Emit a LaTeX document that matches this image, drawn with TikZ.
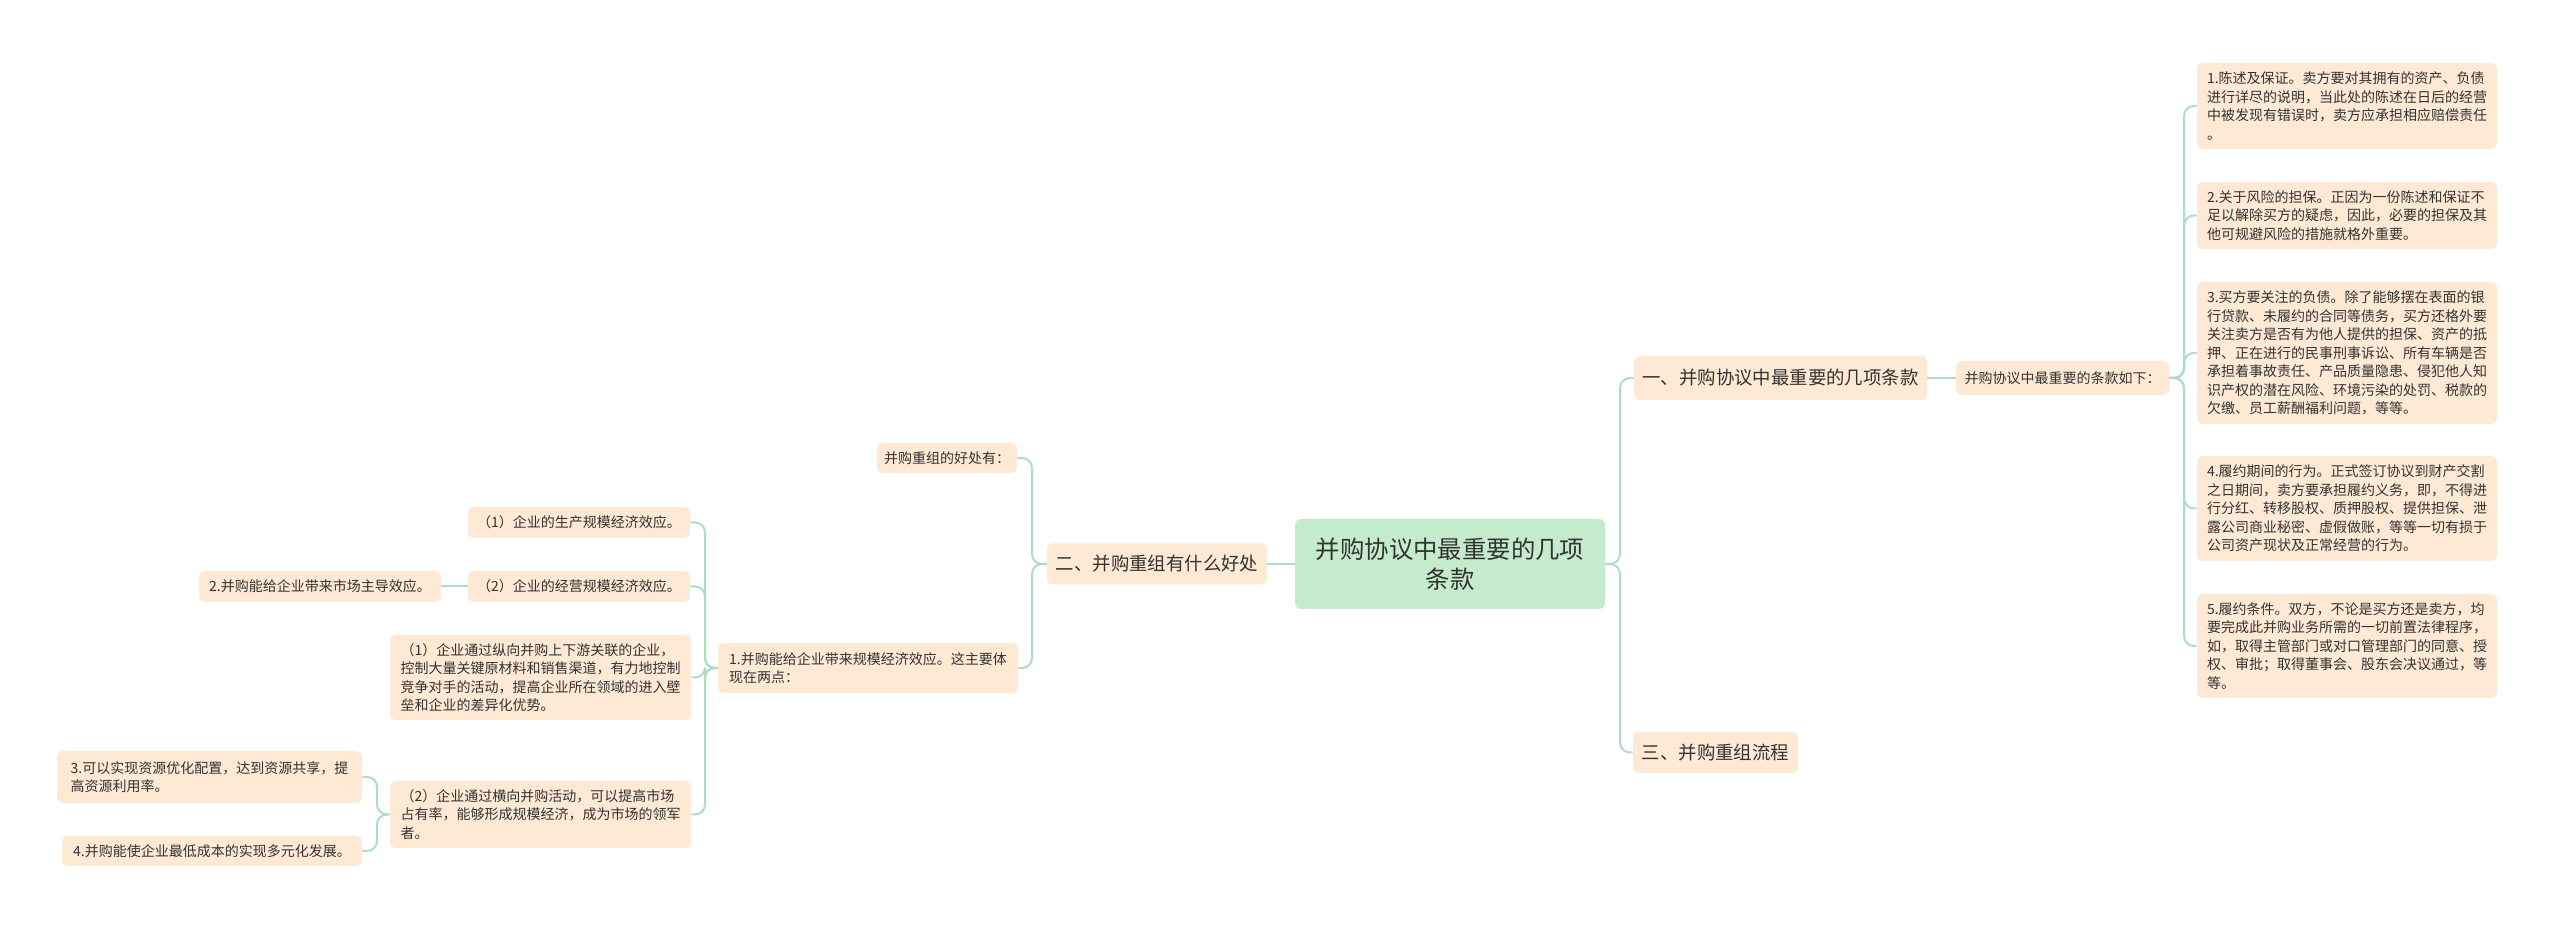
\documentclass[tikz,border=0pt]{standalone}
\usepackage{fontspec}
\setmainfont{Noto Sans CJK SC}
\definecolor{peach}{HTML}{FDE9D4}
\definecolor{mint}{HTML}{C4EBCB}
\definecolor{conncol}{HTML}{AEDDC2}
\definecolor{txt}{HTML}{333333}
\tikzset{
  box/.style={fill=peach, rounded corners=3pt, inner sep=2pt, align=left, text=txt},
  leaf/.style={box, font=\fontsize{7}{9.25}\selectfont},
  branch/.style={box, font=\fontsize{9.2}{11}\selectfont, align=center},
  center/.style={box, fill=mint, font=\fontsize{12.2}{15}\selectfont, align=center},
  conn/.style={draw=conncol, line width=1pt, rounded corners=5pt},
}
\begin{document}
\begin{tikzpicture}[x=0.5pt, y=-0.5pt]
\useasboundingbox (0,0) rectangle (2560,929);
\fill[white] (0,0) rectangle (2560,929);
% center
\node[center, minimum width=155pt, minimum height=45pt] (c) at (1450,564) {并购协议中最重要的几项\\条款};
% branches
\node[branch, minimum width=146.5pt, minimum height=22pt] (b1) at (1780.5,378) {一、并购协议中最重要的几项条款};
\node[branch, minimum width=110pt, minimum height=20.5pt] (b2) at (1157,564) {二、并购重组有什么好处};
\node[branch, minimum width=82.5pt, minimum height=20.5pt] (b3) at (1715.5,752.5) {三、并购重组流程};
% right side
\node[leaf, minimum width=106.5pt, minimum height=17pt] (s1) at (2062.5,378) {并购协议中最重要的条款如下：};
\node[leaf, minimum width=150pt, minimum height=43pt] (r1) at (2347,106) {1.陈述及保证。卖方要对其拥有的资产、负债\\进行详尽的说明，当此处的陈述在日后的经营\\中被发现有错误时，卖方应承担相应赔偿责任\\。};
\node[leaf, minimum width=150pt, minimum height=33.5pt] (r2) at (2347,215.5) {2.关于风险的担保。正因为一份陈述和保证不\\足以解除买方的疑虑，因此，必要的担保及其\\他可规避风险的措施就格外重要。};
\node[leaf, minimum width=150pt, minimum height=71pt] (r3) at (2347,353) {3.买方要关注的负债。除了能够摆在表面的银\\行贷款、未履约的合同等债务，买方还格外要\\关注卖方是否有为他人提供的担保、资产的抵\\押、正在进行的民事刑事诉讼、所有车辆是否\\承担着事故责任、产品质量隐患、侵犯他人知\\识产权的潜在风险、环境污染的处罚、税款的\\欠缴、员工薪酬福利问题，等等。};
\node[leaf, minimum width=150pt, minimum height=52.5pt] (r4) at (2347,508.5) {4.履约期间的行为。正式签订协议到财产交割\\之日期间，卖方要承担履约义务，即，不得进\\行分红、转移股权、质押股权、提供担保、泄\\露公司商业秘密、虚假做账，等等一切有损于\\公司资产现状及正常经营的行为。};
\node[leaf, minimum width=150pt, minimum height=52pt] (r5) at (2347,646) {5.履约条件。双方，不论是买方还是卖方，均\\要完成此并购业务所需的一切前置法律程序，\\如，取得主管部门或对口管理部门的同意、授\\权、审批；取得董事会、股东会决议通过，等\\等。};
% left side
\node[leaf, minimum width=70pt, minimum height=15pt] (h) at (947,458) {并购重组的好处有：};
\node[leaf, minimum width=150pt, minimum height=25pt] (g) at (868,668) {1.并购能给企业带来规模经济效应。这主要体\\现在两点：};
\node[leaf, minimum width=111pt, minimum height=15.5pt] (k1) at (579,522.5) {（1）企业的生产规模经济效应。};
\node[leaf, minimum width=111pt, minimum height=15.5pt] (k2) at (579,586.5) {（2）企业的经营规模经济效应。};
\node[leaf, minimum width=150.5pt, minimum height=42.5pt] (k3) at (540.5,677.5) {（1）企业通过纵向并购上下游关联的企业，\\控制大量关键原材料和销售渠道，有力地控制\\竞争对手的活动，提高企业所在领域的进入壁\\垒和企业的差异化优势。};
\node[leaf, minimum width=150.5pt, minimum height=33.5pt] (k4) at (540.5,814.5) {（2）企业通过横向并购活动，可以提高市场\\占有率，能够形成规模经济，成为市场的领军\\者。};
\node[leaf, minimum width=121pt, minimum height=15.5pt] (m) at (320,586.5) {2.并购能给企业带来市场主导效应。};
\node[leaf, minimum width=152.5pt, minimum height=26pt] (n3) at (209.5,777) {3.可以实现资源优化配置，达到资源共享，提\\高资源利用率。};
\node[leaf, minimum width=150pt, minimum height=15pt] (n4) at (212,851) {4.并购能使企业最低成本的实现多元化发展。};
% connectors
\coordinate (tc) at (1620,564);
\draw[conn] (c.east) -- (tc) |- (b1.west);
\draw[conn] (c.east) -- (tc) |- (b3.west);
\draw[conn] (b1.east) -- (s1.west);
\coordinate (ts) at (2184,378);
\foreach \r in {r1,r2,r3,r4,r5} { \draw[conn] (s1.east) -- (ts) |- (\r.west); }
\draw[conn] (c.west) -- (b2.east);
\coordinate (tb) at (1032,564);
\draw[conn] (b2.west) -- (tb) |- (h.east);
\draw[conn] (b2.west) -- (tb) |- (g.east);
\coordinate (tg) at (705,668);
\foreach \k in {k1,k2,k3,k4} { \draw[conn] (g.west) -- (tg) |- (\k.east); }
\draw[conn] (k2.west) -- (m.east);
\coordinate (tk) at (377,814.5);
\draw[conn] (k4.west) -- (tk) |- (n3.east);
\draw[conn] (k4.west) -- (tk) |- (n4.east);
\end{tikzpicture}
\end{document}
